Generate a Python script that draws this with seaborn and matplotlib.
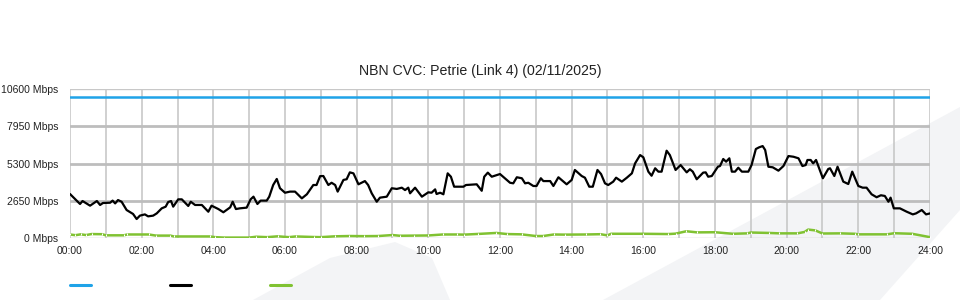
import numpy as np
import pandas as pd
import matplotlib
matplotlib.use("Agg")
import matplotlib.pyplot as plt
from matplotlib.lines import Line2D
from matplotlib.patches import Polygon
import seaborn as sns

# ---------------- data ----------------
title = "NBN CVC: Petrie (Link 4) (02/11/2025)"
y_ticks = [0, 2650, 5300, 7950, 10600]
y_tick_labels = ["0 Mbps", "2650 Mbps", "5300 Mbps", "7950 Mbps", "10600 Mbps"]
x_ticks = [0, 2, 4, 6, 8, 10, 12, 14, 16, 18, 20, 22, 24]
x_tick_labels = ["00:00", "02:00", "04:00", "06:00", "08:00", "10:00", "12:00",
                 "14:00", "16:00", "18:00", "20:00", "22:00", "24:00"]

capacity_hours = [0, 24]
capacity_mbps = [10000, 10000]

traffic_hours = [
    0.00, 0.28, 0.35, 0.56, 0.75, 0.84, 0.92, 1.12, 1.19, 1.26, 1.34, 1.44, 1.58, 1.76,
    1.86, 1.95, 2.09, 2.18, 2.32, 2.42, 2.56, 2.67, 2.74, 2.82, 2.88, 3.02, 3.12, 3.30,
    3.37, 3.49, 3.68, 3.86, 3.95, 4.14, 4.28, 4.47, 4.54, 4.63, 4.74, 4.93, 5.04, 5.12,
    5.23, 5.32, 5.49, 5.56, 5.67, 5.77, 5.86, 6.00, 6.14, 6.28, 6.47, 6.61, 6.79, 6.88,
    6.98, 7.07, 7.21, 7.30, 7.40, 7.47, 7.63, 7.72, 7.81, 7.91, 8.05, 8.23, 8.32, 8.42,
    8.56, 8.65, 8.84, 8.98, 9.12, 9.26, 9.35, 9.44, 9.49, 9.63, 9.82, 10.00, 10.09, 10.19,
    10.23, 10.33, 10.42, 10.54, 10.63, 10.72, 10.98, 11.05, 11.35, 11.49, 11.56, 11.66,
    11.77, 12.00, 12.28, 12.37, 12.47, 12.61, 12.70, 12.79, 12.93, 13.02, 13.14, 13.21,
    13.40, 13.49, 13.63, 13.86, 14.00, 14.09, 14.28, 14.37, 14.49, 14.59, 14.72, 14.82,
    14.93, 15.02, 15.16, 15.24, 15.40, 15.54, 15.68, 15.77, 15.91, 16.00, 16.14, 16.23,
    16.33, 16.42, 16.51, 16.65, 16.74, 16.90, 17.04, 17.21, 17.30, 17.38, 17.49, 17.67,
    17.74, 17.81, 17.91, 18.08, 18.14, 18.23, 18.31, 18.40, 18.47, 18.56, 18.65, 18.75,
    18.93, 19.02, 19.14, 19.23, 19.33, 19.40, 19.49, 19.61, 19.77, 19.91, 20.05, 20.19,
    20.33, 20.44, 20.53, 20.58, 20.67, 20.74, 20.82, 21.01, 21.16, 21.21, 21.33, 21.42,
    21.58, 21.72, 21.83, 22.00, 22.12, 22.23, 22.37, 22.51, 22.63, 22.74, 22.84, 22.90,
    22.99, 23.16, 23.35, 23.52, 23.61, 23.77, 23.89, 24.00,
]
traffic_mbps = [
    3130, 2420, 2630, 2300, 2630, 2350, 2490, 2510, 2660, 2460, 2700, 2580, 1990, 1710,
    1350, 1590, 1680, 1540, 1590, 1750, 2110, 2230, 2560, 2630, 2230, 2750, 2750, 2280,
    2580, 2350, 2350, 1870, 2300, 2060, 1830, 2180, 2580, 2060, 2110, 2160, 2750, 2940,
    2420, 2660, 2660, 2940, 3770, 4200, 3540, 3220, 3300, 3300, 2820, 3110, 3770, 3770,
    4400, 4410, 3770, 3930, 3770, 3300, 4130, 4180, 4670, 4600, 3820, 4050, 3770, 3180,
    2580, 2870, 2940, 3540, 3490, 3580, 3410, 3580, 3180, 3580, 2940, 3250, 3220, 3460,
    3130, 3220, 3110, 4600, 4360, 3650, 3650, 3770, 3820, 3360, 4360, 4650, 4360, 4550,
    3930, 3890, 4320, 4250, 3890, 3930, 3700, 3700, 4250, 4050, 4050, 3700, 4320, 3820,
    4130, 4840, 4410, 4290, 3650, 3650, 4840, 4550, 3890, 3770, 4010, 4290, 4010, 4290,
    4600, 5310, 5900, 5740, 4720, 4430, 4960, 4720, 4720, 6210, 5900, 4840, 5190, 4670,
    4890, 4720, 4180, 4650, 4670, 4360, 4410, 5070, 5120, 5620, 5430, 5670, 4720, 4720,
    5000, 4720, 4720, 5190, 6330, 6450, 6540, 6260, 5070, 5030, 4790, 5120, 5830, 5780,
    5670, 5120, 5190, 5550, 5550, 5310, 5550, 4250, 4910, 4960, 4410, 5070, 4010, 3840,
    4720, 3700, 3580, 3580, 3110, 2900, 3040, 2990, 2580, 2870, 2110, 2110, 1870, 1680,
    1750, 1990, 1680, 1750,
]

other_hours = [
    0.0, 0.15, 0.3, 0.45, 0.6, 0.9, 1.0, 1.5, 1.6, 2.2, 2.4, 2.8, 2.9, 3.9, 4.05, 4.3,
    5.0, 5.2, 5.5, 5.8, 6.1, 6.3, 6.8, 7.0, 7.4, 7.8, 8.2, 8.6, 9.0, 9.2, 9.6, 10.0,
    10.4, 10.8, 11.0, 11.4, 11.9, 12.2, 12.6, 13.0, 13.2, 13.5, 13.8, 14.4, 14.8, 15.0,
    15.1, 16.0, 16.7, 16.9, 17.2, 17.5, 18.0, 18.5, 18.9, 19.0, 19.5, 19.8, 20.3, 20.5,
    20.6, 20.8, 21.0, 21.5, 21.9, 22.0, 22.8, 23.0, 23.5, 24.0,
]
other_mbps = [
    250, 200, 260, 210, 280, 270, 190, 190, 250, 250, 170, 170, 110, 110, 60, 30,
    30, 90, 60, 120, 60, 110, 70, 60, 120, 140, 130, 140, 210, 160, 170, 180,
    250, 250, 240, 290, 360, 280, 260, 140, 140, 250, 240, 250, 270, 190,
    300, 300, 280, 310, 480, 400, 410, 300, 330, 390, 360, 330, 330, 430,
    600, 540, 320, 330, 300, 260, 260, 340, 300, 60,
]

blue = "#1fa3e8"
black = "#000000"
green = "#80c232"

# ---------------- figure ----------------
sns.set_style("white")
plt.rcParams["font.family"] = ["Liberation Sans", "DejaVu Sans"]

fig = plt.figure(figsize=(9.6, 3.0), dpi=100)
fig.patch.set_facecolor("white")

# faint background decoration
bg = "#f3f4f6"
fig.add_artist(Polygon([[603 / 960, 0], [960 / 960, 193 / 300], [960 / 960, 90 / 300], [880 / 960, 0]],
                       closed=True, transform=fig.transFigure, facecolor=bg, edgecolor="none", zorder=0))
fig.add_artist(Polygon([[253 / 960, 0], [330 / 960, 42 / 300], [395 / 960, 58 / 300], [432 / 960, 42 / 300],
                        [450 / 960, 0]],
                       closed=True, transform=fig.transFigure, facecolor=bg, edgecolor="none", zorder=0))

ax = fig.add_axes([70 / 960, 62 / 300, 860 / 960, 149 / 300])
ax.set_facecolor("none")

df_cap = pd.DataFrame({"hour": capacity_hours, "mbps": capacity_mbps})
df_tr = pd.DataFrame({"hour": traffic_hours, "mbps": traffic_mbps})
df_ot = pd.DataFrame({"hour": other_hours, "mbps": other_mbps})

sns.lineplot(data=df_cap, x="hour", y="mbps", ax=ax, color=blue, linewidth=1.8, zorder=5)
sns.lineplot(data=df_ot, x="hour", y="mbps", ax=ax, color=green, linewidth=1.8, zorder=4,
             marker="|", markersize=2, markevery=1)
sns.lineplot(data=df_tr, x="hour", y="mbps", ax=ax, color=black, linewidth=1.6, zorder=6)

ax.set_xlim(0, 24)
ax.set_ylim(0, 10600)
ax.set_xticks(x_ticks)
ax.set_xticklabels(x_tick_labels, fontsize=7.5, color="#222222")
ax.set_yticks(y_ticks)
ax.set_yticklabels(y_tick_labels, fontsize=7.5, color="#222222")
ax.set_xlabel("")
ax.set_ylabel("")

# grid
ax.grid(False)
for h in range(0, 25):
    ax.axvline(h, color="#c4c4c4", linewidth=1.1, zorder=1)
for v in y_ticks[1:4]:
    ax.axhline(v, color="#bdbdbd", linewidth=2.0, zorder=1)
ax.axhline(10600, color="#c8c8c8", linewidth=1.0, zorder=1)
ax.axhline(0, color="#c8c8c8", linewidth=1.0, zorder=1)

for s in ax.spines.values():
    s.set_visible(False)
ax.tick_params(axis="x", which="both", length=3, color="#c4c4c4", pad=3)
ax.tick_params(axis="y", length=0, pad=8.5)

fig.text(0.5, 1 - 71 / 300, title, fontsize=10.2, color="#222222", ha="center", va="center")

# legend swatches (no labels)
for x0, c in [(70, blue), (170, black), (270, green)]:
    fig.add_artist(Line2D([x0 / 960, (x0 + 21) / 960], [15 / 300, 15 / 300], color=c,
                          linewidth=2.2, transform=fig.transFigure))

fig.savefig("out.png", dpi=100, facecolor="white")
